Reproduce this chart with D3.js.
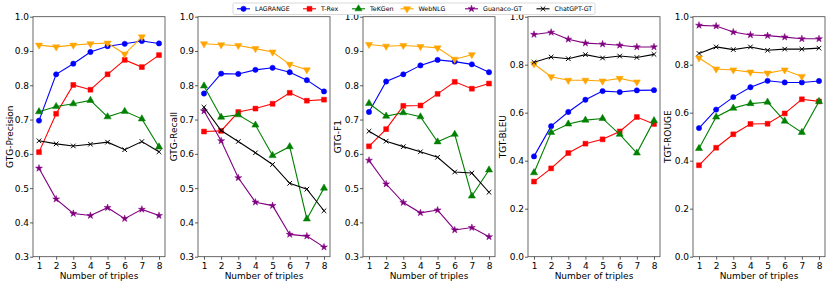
<!DOCTYPE html>
<html>
<head>
<meta charset="utf-8">
<script src="https://cdn.jsdelivr.net/npm/d3@7"></script>
<style>
  body { margin: 0; background: #fff; }
  svg { font-family: "DejaVu Sans", sans-serif; }
</style>
</head>
<body>
<svg id="chart" width="830" height="285"></svg>
<script>
const triples = [1, 2, 3, 4, 5, 6, 7, 8]
const models = ['LAGRANGE', 'T-Rex', 'TeKGen', 'WebNLG', 'Guanaco-GT', 'ChatGPT-GT']
const colors = ['#0000ff', '#ff0000', '#008000', '#ffa500', '#800080', '#000000']
const markers = ['circle', 'square', 'triangle', 'triangleDown', 'star', 'x']

// one row per model, same order as `models`
const gtgPrecision = [
    [0.697, 0.832, 0.863, 0.897, 0.914, 0.921, 0.929, 0.922],
    [0.605, 0.717, 0.801, 0.787, 0.832, 0.874, 0.853, 0.888],
    [0.723, 0.738, 0.746, 0.756, 0.708, 0.724, 0.702, 0.620],
    [0.917, 0.912, 0.917, 0.921, 0.923, 0.891, 0.941, null],
    [0.558, 0.468, 0.426, 0.420, 0.443, 0.411, 0.438, 0.420],
    [0.638, 0.629, 0.623, 0.628, 0.634, 0.612, 0.636, 0.606],
]
const gtgRecall = [
    [0.776, 0.834, 0.833, 0.845, 0.851, 0.838, 0.815, 0.782],
    [0.665, 0.667, 0.722, 0.732, 0.746, 0.778, 0.755, 0.758],
    [0.798, 0.707, 0.714, 0.684, 0.595, 0.621, 0.410, 0.500],
    [0.921, 0.918, 0.916, 0.907, 0.897, 0.861, 0.845, null],
    [0.725, 0.638, 0.530, 0.459, 0.449, 0.365, 0.360, 0.328],
    [0.736, 0.668, 0.636, 0.603, 0.569, 0.514, 0.497, 0.434],
]
const gtgF1 = [
    [0.722, 0.811, 0.832, 0.858, 0.874, 0.869, 0.861, 0.838],
    [0.622, 0.672, 0.740, 0.741, 0.775, 0.810, 0.790, 0.805],
    [0.747, 0.710, 0.720, 0.708, 0.635, 0.657, 0.477, 0.553],
    [0.919, 0.914, 0.916, 0.913, 0.909, 0.876, 0.889, null],
    [0.581, 0.512, 0.458, 0.428, 0.436, 0.378, 0.385, 0.358],
    [0.666, 0.637, 0.621, 0.606, 0.590, 0.547, 0.544, 0.488],
]
const tgtBleu = [
    [0.418, 0.544, 0.603, 0.654, 0.690, 0.686, 0.693, 0.694],
    [0.313, 0.368, 0.432, 0.471, 0.489, 0.522, 0.582, 0.553],
    [0.350, 0.518, 0.553, 0.569, 0.576, 0.510, 0.432, 0.567],
    [0.803, 0.750, 0.735, 0.735, 0.732, 0.743, 0.728, null],
    [0.926, 0.935, 0.906, 0.890, 0.886, 0.881, 0.874, 0.874],
    [0.810, 0.832, 0.825, 0.842, 0.828, 0.836, 0.830, 0.843],
]
const tgtRouge = [
    [0.536, 0.613, 0.665, 0.706, 0.733, 0.726, 0.726, 0.732],
    [0.381, 0.454, 0.510, 0.553, 0.554, 0.597, 0.656, 0.647],
    [0.451, 0.582, 0.619, 0.638, 0.644, 0.565, 0.518, 0.647],
    [0.828, 0.782, 0.778, 0.769, 0.765, 0.778, 0.751, null],
    [0.964, 0.961, 0.936, 0.924, 0.921, 0.915, 0.908, 0.908],
    [0.847, 0.874, 0.863, 0.874, 0.860, 0.865, 0.865, 0.869],
]

const panels = [
    { label: 'GTG-Precision', rows: gtgPrecision, domain: [0.3, 1.0], ticks: [0.3, 0.4, 0.5, 0.6, 0.7, 0.8, 0.9, 1.0] },
    { label: 'GTG-Recall', rows: gtgRecall, domain: [0.3, 1.0], ticks: [0.3, 0.4, 0.5, 0.6, 0.7, 0.8, 0.9, 1.0] },
    { label: 'GTG-F1', rows: gtgF1, domain: [0.3, 1.0], ticks: [0.3, 0.4, 0.5, 0.6, 0.7, 0.8, 0.9, 1.0] },
    { label: 'TGT-BLEU', rows: tgtBleu, domain: [0, 1.0], ticks: [0, 0.2, 0.4, 0.6, 0.8, 1.0] },
    { label: 'TGT-ROUGE', rows: tgtRouge, domain: [0, 1.0], ticks: [0, 0.2, 0.4, 0.6, 0.8, 1.0] },
]

let opts = {
    lefts: [33, 198, 363, 528, 693],
    width: 132,
    top: 16.7,
    bottom: 256.7,
    labelX: [10, 174, 338, 503, 668],
    fontSize: 9,
}

let svg = d3.select('#chart')

function markerPath(kind) {
    if (kind === 'circle') return d3.symbol(d3.symbolCircle, 22)()
    if (kind === 'square') return d3.symbol(d3.symbolSquare, 24)()
    if (kind === 'triangle' || kind === 'triangleDown') return d3.symbol(d3.symbolTriangle, 22)()
    if (kind === 'star') return d3.symbol(d3.symbolStar, 15)()
    return 'M-2.3,-2.3L2.3,2.3M-2.3,2.3L2.3,-2.3'
}

function drawMarkers(g, pts, i) {
    let kind = markers[i]
    g.selectAll('path.m' + i)
        .data(pts)
        .enter().append('path')
        .attr('class', 'm' + i)
        .attr('d', markerPath(kind))
        .attr('transform', (d) => {
            let t = 'translate(' + d.x + ',' + d.y + ')'
            if (kind === 'triangleDown') t += ' rotate(180)'
            return t
        })
        .attr('fill', kind === 'x' ? 'none' : colors[i])
        .attr('stroke', colors[i])
        .attr('stroke-width', kind === 'x' ? 1 : 0.5)
}

panels.forEach((p, pi) => {
    let left = opts.lefts[pi]
    let x = d3.scaleLinear().domain([0.65, 8.35]).range([left, left + opts.width])
    let y = d3.scaleLinear().domain(p.domain).range([opts.bottom, opts.top])

    let g = svg.append('g')

    // series
    p.rows.forEach((row, i) => {
        let pts = triples.map((t, k) => ({ t: t, v: row[k] }))
            .filter((d) => d.v !== null)
            .map((d) => ({ x: x(d.t), y: y(d.v) }))
        let line = d3.line().x((d) => d.x).y((d) => d.y)
        g.append('path')
            .attr('d', line(pts))
            .attr('fill', 'none')
            .attr('stroke', colors[i])
            .attr('stroke-width', 1.1)
        drawMarkers(g, pts, i)
    })

    // frame
    g.append('rect')
        .attr('x', left)
        .attr('y', opts.top)
        .attr('width', opts.width)
        .attr('height', opts.bottom - opts.top)
        .attr('fill', 'none')
        .attr('stroke', '#444')
        .attr('stroke-width', 0.8)

    let xAxis = g.append('g')
        .attr('transform', 'translate(0,' + opts.bottom + ')')
        .call(d3.axisBottom(x).tickValues(triples).tickFormat(d3.format('d')).tickSize(3).tickPadding(2.5))
    let yAxis = g.append('g')
        .attr('transform', 'translate(' + left + ',0)')
        .call(d3.axisLeft(y).tickValues(p.ticks).tickFormat(d3.format('.1f')).tickSize(3).tickPadding(1))

    ;[xAxis, yAxis].forEach((a) => {
        a.select('.domain').remove()
        a.selectAll('.tick line').attr('stroke', '#333').attr('stroke-width', 0.8)
        a.selectAll('.tick text')
            .attr('fill', '#000')
            .style('font-size', opts.fontSize + 'px')
            .style('font-family', '"DejaVu Sans", sans-serif')
    })

    g.append('text')
        .attr('x', left + opts.width / 2)
        .attr('y', 279)
        .attr('text-anchor', 'middle')
        .style('font-size', opts.fontSize + 'px')
        .text('Number of triples')

    g.append('text')
        .attr('transform', 'translate(' + (opts.labelX[pi] + 3.2) + ',' + ((opts.top + opts.bottom) / 2) + ') rotate(-90)')
        .attr('text-anchor', 'middle')
        .style('font-size', opts.fontSize + 'px')
        .text(p.label)
})

// legend
let legendX = [237, 303, 352, 400.5, 465, 536.5]
let legend = svg.append('g')
legend.append('rect')
    .attr('x', 233)
    .attr('y', 3)
    .attr('width', 362)
    .attr('height', 11.5)
    .attr('rx', 1.5)
    .attr('fill', '#fff')
    .attr('stroke', '#d0d0d0')
    .attr('stroke-width', 0.8)

models.forEach((m, i) => {
    let lx = legendX[i]
    let ly = 8.8
    legend.append('line')
        .attr('x1', lx).attr('x2', lx + 13)
        .attr('y1', ly).attr('y2', ly)
        .attr('stroke', colors[i])
        .attr('stroke-width', 1.1)
    drawMarkers(legend, [{ x: lx + 6.5, y: ly }], i)
    legend.append('text')
        .attr('x', lx + 18)
        .attr('y', ly + 2.3)
        .style('font-size', '6.3px')
        .text(m)
})
</script>
</body>
</html>
